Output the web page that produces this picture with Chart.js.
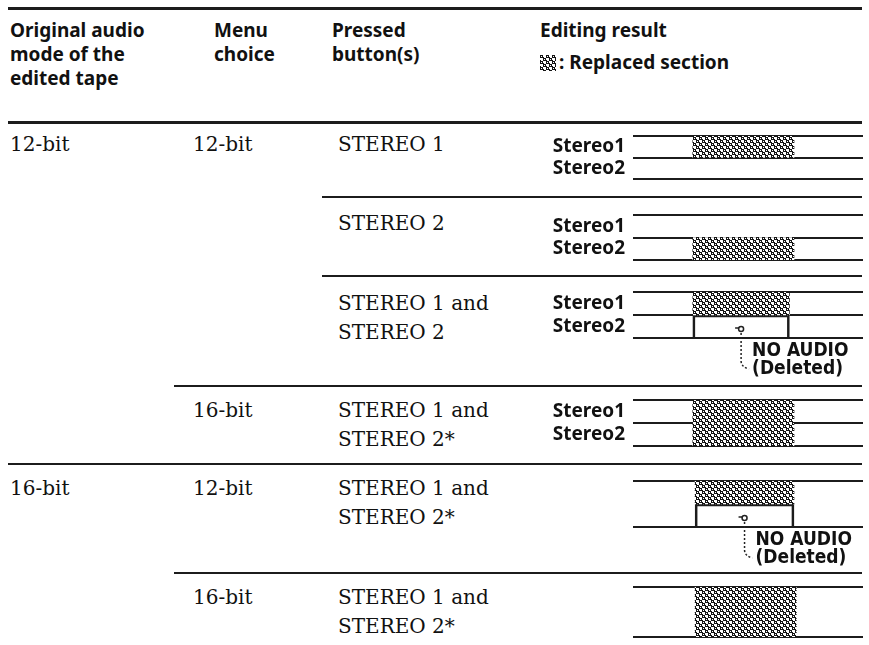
<!DOCTYPE html>
<html>
<head>
<meta charset="utf-8">
<script src="https://cdn.jsdelivr.net/npm/chart.js@4.4.1/dist/chart.umd.min.js"></script>
<style>
  body { margin: 0; background: #fff; }
  #page { position: relative; width: 869px; height: 645px; overflow: hidden; }
  .rule { position: absolute; background: #1c1c1c; }
  .head { position: absolute; font: bold 19px "Noto Sans", sans-serif; line-height: 24px; color: #111; white-space: pre; }
  .cell { position: absolute; font: 20px "DejaVu Serif", serif; line-height: 29px; color: #111; white-space: pre; }
</style>
</head>
<body>
<div id="page"></div>
<script>
// Table contents
const headers = ['Original audio\nmode of the\nedited tape', 'Menu\nchoice', 'Pressed\nbutton(s)', 'Editing result'];
const legendText = ': Replaced section';
const originalModes = ['12-bit', '16-bit'];
const menuChoices = ['12-bit', '16-bit', '12-bit', '16-bit'];
const pressedButtons = ['STEREO 1', 'STEREO 2', 'STEREO 1 and\nSTEREO 2', 'STEREO 1 and\nSTEREO 2*', 'STEREO 1 and\nSTEREO 2*', 'STEREO 1 and\nSTEREO 2*'];

// Editing result diagrams (tape position in % of the drawn tape)
const trackLabels = ['Stereo1', 'Stereo2'];
const showLabels = [true, true, true, true, false, false];
const splitTracks = [true, true, true, true, false, false];
const replacedStart = [26, 26, 26, 26, 27, 27];
const replacedEnd = [70, 70, 68, 70, 70, 71];
const replacedTracks = [[1, 0], [0, 1], [1, 0], [1, 1], [1, 0], [1, 1]];
const deletedTracks = [[0, 0], [0, 0], [0, 1], [0, 0], [0, 1], [0, 0]];
const noAudioText = ['NO AUDIO', '(Deleted)'];

// layout
const page = document.getElementById('page');
const headX = [10, 214, 332, 540];
const rowTextY = [130, 209, 289, 396, 474, 583];
const diagBoxes = [
  { top: 136, bottom: 179 },
  { top: 215, bottom: 260 },
  { top: 292, bottom: 338 },
  { top: 400, bottom: 446 },
  { top: 481, bottom: 527 },
  { top: 587, bottom: 637 }
];

function addRule(x1, x2, y, h) {
  const d = document.createElement('div');
  d.className = 'rule';
  d.style.cssText = `left:${x1}px;width:${x2 - x1}px;top:${y}px;height:${h}px;`;
  page.appendChild(d);
}

function addText(cls, txt, x, y) {
  const d = document.createElement('div');
  d.className = cls;
  d.textContent = txt;
  d.style.left = x + 'px';
  d.style.top = y + 'px';
  page.appendChild(d);
  return d;
}

// little rings running in diagonal chains, like the printed screen
function makeHatch() {
  const c = document.createElement('canvas');
  c.width = 6; c.height = 6;
  const g = c.getContext('2d');
  g.fillStyle = '#fff';
  g.fillRect(0, 0, 6, 6);
  g.fillStyle = '#141414';
  [[0, 0], [3, 3]].forEach(([ox, oy]) => {
    g.fillRect(ox, oy, 3, 3);
    g.clearRect(ox + 1, oy + 1, 1, 1);
  });
  g.fillRect(3, 2, 1, 1);
  g.fillRect(0, 5, 1, 1);
  g.globalCompositeOperation = 'destination-over';
  g.fillStyle = '#fff';
  g.fillRect(0, 0, 6, 6);
  return c;
}
const hatchTile = makeHatch();

// rules
addRule(8, 862, 7, 3);
addRule(8, 862, 121, 3);
addRule(322, 862, 196, 2);
addRule(322, 862, 275, 2);
addRule(174, 862, 385, 2);
addRule(8, 862, 463, 2);
addRule(174, 862, 572, 2);

// header
headers.forEach((h, i) => addText('head', h, headX[i], 18));
const legendBox = document.createElement('canvas');
legendBox.width = 16; legendBox.height = 16;
legendBox.style.cssText = 'position:absolute;left:540px;top:55px;';
const lg = legendBox.getContext('2d');
lg.fillStyle = lg.createPattern(hatchTile, 'repeat');
lg.fillRect(0, 0, 16, 16);
page.appendChild(legendBox);
addText('head', legendText, 559, 50);

// body text
addText('cell', originalModes[0], 10, rowTextY[0]);
addText('cell', originalModes[1], 10, rowTextY[4]);
addText('cell', menuChoices[0], 193, rowTextY[0]);
addText('cell', menuChoices[1], 193, rowTextY[3]);
addText('cell', menuChoices[2], 193, rowTextY[4]);
addText('cell', menuChoices[3], 193, rowTextY[5]);
pressedButtons.forEach((p, i) => addText('cell', p, 338, rowTextY[i]));

// diagrams
diagBoxes.forEach((box, r) => {
  const hasDeleted = deletedTracks[r].some(Boolean);
  const padTop = 14;
  const padBottom = hasDeleted ? 46 : 6;
  const canvas = document.createElement('canvas');
  canvas.width = 325;
  canvas.height = box.bottom - box.top + padTop + padBottom;
  canvas.style.cssText = `position:absolute;left:540px;top:${box.top - padTop}px;`;
  page.appendChild(canvas);
  const hatch = canvas.getContext('2d').createPattern(hatchTile, 'repeat');

  const noAudio = {
    id: 'noAudio',
    afterDraw(chart) {
      if (!hasDeleted) return;
      const ctx = chart.ctx;
      chart.getDatasetMeta(1).data.forEach((bar, i) => {
        if (!deletedTracks[r][i]) return;
        const p = bar.getProps(['x', 'base', 'y', 'height'], true);
        const cx = (p.x + p.base) / 2;
        const bottom = p.y + p.height / 2;
        ctx.save();
        ctx.strokeStyle = '#222';
        ctx.lineWidth = 1.5;
        ctx.beginPath();
        ctx.arc(cx, bottom - 9, 2.5, 0, Math.PI * 2);
        ctx.stroke();
        ctx.beginPath();
        ctx.moveTo(cx - 6, bottom - 10);
        ctx.lineTo(cx - 2, bottom - 10);
        ctx.stroke();
        ctx.setLineDash([2, 2]);
        ctx.beginPath();
        ctx.moveTo(cx, bottom - 5);
        ctx.lineTo(cx, bottom + 23);
        ctx.quadraticCurveTo(cx, bottom + 29, cx + 8, bottom + 31);
        ctx.stroke();
        ctx.setLineDash([]);
        ctx.fillStyle = '#111';
        ctx.font = 'bold 19px "DejaVu Sans Condensed", "DejaVu Sans"';
        ctx.textBaseline = 'middle';
        ctx.fillText(noAudioText[0], cx + 11, bottom + 13);
        ctx.fillText(noAudioText[1], cx + 11, bottom + 31);
        ctx.restore();
      });
    }
  };

  new Chart(canvas, {
    type: 'bar',
    data: {
      labels: trackLabels,
      datasets: [
        {
          label: 'Replaced',
          data: trackLabels.map((_, i) => replacedTracks[r][i] ? [replacedStart[r], replacedEnd[r]] : null),
          backgroundColor: hatch,
          borderWidth: 0,
          barPercentage: 1,
          categoryPercentage: 1,
          grouped: false
        },
        {
          label: 'Deleted',
          data: trackLabels.map((_, i) => deletedTracks[r][i] ? [replacedStart[r], replacedEnd[r]] : null),
          backgroundColor: 'rgba(0,0,0,0)',
          borderColor: '#1c1c1c',
          borderWidth: { top: 2, left: 2, right: 2, bottom: 0 },
          borderSkipped: false,
          barPercentage: 1,
          categoryPercentage: 1,
          grouped: false
        }
      ]
    },
    options: {
      indexAxis: 'y',
      responsive: false,
      animation: false,
      layout: { padding: { top: padTop, bottom: padBottom, left: 0, right: 2 } },
      plugins: { legend: { display: false }, tooltip: { enabled: false } },
      scales: {
        x: { display: false, min: 0, max: 100 },
        y: {
          offset: true,
          z: 1,
          afterFit: s => {
            s.width = 93;
            s.paddingTop = 0;
            s.paddingBottom = 0;
          },
          border: { display: false },
          grid: {
            offset: true,
            drawTicks: false,
            lineWidth: 2,
            color: c => (!splitTracks[r] && c.index === 1) ? 'rgba(0,0,0,0)' : '#1c1c1c'
          },
          ticks: {
            display: showLabels[r],
            autoSkip: false,
            padding: 8,
            color: '#111',
            font: { family: 'Noto Sans', weight: 'bold', size: 19, lineHeight: 1 }
          }
        }
      }
    },
    plugins: [noAudio]
  });
});
</script>
</body>
</html>
